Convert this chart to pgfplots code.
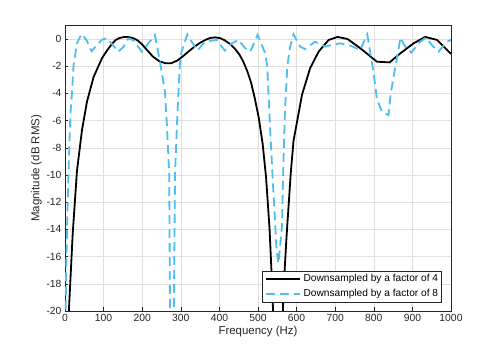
\documentclass[border=0pt]{standalone}
\usepackage{fontspec}
\setmainfont{Liberation Sans}
\usepackage{pgfplots}
\pgfplotsset{compat=1.18}
\definecolor{mblue}{RGB}{77,190,238}
\definecolor{axc}{RGB}{38,38,38}
\definecolor{gridc}{RGB}{223,223,223}
\begin{document}
\begin{tikzpicture}
\path[use as bounding box] (-65bp,-39bp) rectangle (433bp,311bp);
\begin{axis}[
  at={(0,0)}, anchor=south west,
  scale only axis, width=386bp, height=285.6bp,
  xmin=0, xmax=1000, ymin=-20, ymax=1,
  xtick={0,100,...,1000}, ytick={-20,-18,...,0},
  grid=major, major grid style={gridc, line width=0.5bp},
  axis line style={axc, line width=0.5bp},
  tick style={axc, line width=0.5bp},
  tick align=inside, major tick length=3.5bp,
  xtick pos=bottom, ytick pos=left,
  ticklabel style={font=\fontsize{10.4}{12}\selectfont, text=axc},
  /pgf/number format/assume math mode=true,
  /pgf/number format/1000 sep={},
  xlabel={Frequency (Hz)}, ylabel={Magnitude (dB RMS)},
  label style={font=\fontsize{11.5}{13}\selectfont, text=axc},
  xlabel style={yshift=2.5bp},
  ylabel style={yshift=-2bp},
  legend style={at={(0.976,0.03)}, anchor=south east, draw=axc, line width=0.5bp,
    font=\fontsize{10.2}{12}\selectfont, fill=white,
    inner xsep=3.4bp, inner ysep=2.8bp, row sep=5.5bp, column sep=2.6bp,
    nodes={inner sep=0pt, text height=7.6bp, text depth=2.4bp}},
  legend cell align=left,
  legend image code/.code={\draw[#1] (0bp,0bp) -- (34bp,0bp);},
]
\addplot[black, line width=1.8bp] table {
x y
0 -35
10 -20
20 -14.3
31 -9.7
44 -6.7
57 -4.6
74 -2.8
96 -1.4
110 -0.8
122 -0.35
131 -0.08
141 0.07
152 0.14
163 0.15
176 0.07
188 -0.1
200 -0.4
212 -0.8
228 -1.3
245 -1.65
260 -1.78
275 -1.78
290 -1.6
305 -1.28
320 -0.92
335 -0.58
350 -0.28
365 -0.05
377 0.08
389 0.12
401 0.07
414 -0.1
428 -0.38
441 -0.75
452 -1.15
462 -1.67
472 -2.35
482 -3.2
492 -4.4
502 -5.8
512 -7.7
521 -10.2
530 -14
538 -19
546 -28
552 -40
560 -25
566 -18.5
574 -14.5
585 -9.8
592 -7.5
614 -4.1
635 -2.15
657 -0.93
683 -0.07
706 0.15
732 0.0
765 -0.68
808 -1.67
841 -1.72
869 -1.05
903 -0.32
933 0.15
964 -0.07
1000 -1.1
};
\addlegendentry{Downsampled by a factor of 4}
\addplot[mblue, line width=1.8bp, dash pattern=on 9bp off 5bp] table {
x y
0 -24
3 -17
6 -13
10 -8.9
14 -5.5
18 -4
22 -2
31 -0.3
43 0.37
56 -0.1
69 -0.9
83 -0.44
95 -0.07
108 0.07
121 -0.35
138 -0.93
151 -0.6
164 0.05
177 -0.1
199 -0.93
216 -0.32
233 0.29
246 -1.67
259 -3.9
264 -6.3
270 -10
276 -40
285 -10
290 -6.3
294 -3.9
298 -1.67
302 -0.93
317 0.33
328 -0.2
343 -0.85
359 -0.32
371 -0.15
393 -0.07
414 -0.85
432 -0.32
449 -0.07
467 -0.68
480 -0.93
499 0.3
518 -1.0
524 -2.0
531 -6.4
540 -11.3
548 -15.5
553 -16.5
562 -13.8
566 -8.9
570 -5.2
576 -2.0
583 -0.6
592 0.34
609 -0.56
622 -0.74
648 -0.2
674 -0.56
690 -0.45
713 -0.32
739 -0.49
765 -0.8
783 0.34
799 -2.4
808 -4.4
820 -5.3
838 -5.6
843 -4.2
851 -2.8
860 -1.4
869 0.1
881 -0.56
897 -1.0
920 -0.2
935 0.1
952 -0.5
968 -0.93
989 -0.2
1000 -0.07
};
\addlegendentry{Downsampled by a factor of 8}
\end{axis}
\end{tikzpicture}
\end{document}
